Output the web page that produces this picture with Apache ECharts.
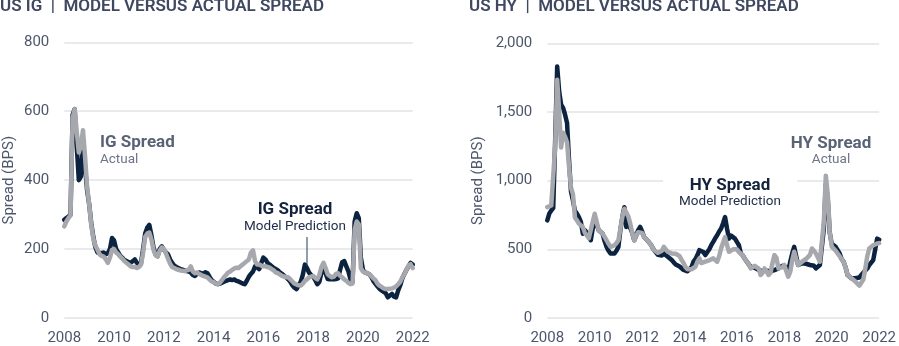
<!DOCTYPE html>
<html>
<head>
<meta charset="utf-8">
<script src="https://cdn.jsdelivr.net/npm/echarts@6/dist/echarts.min.js"></script>
<style>
html,body{margin:0;padding:0;background:#fff;}
#c{width:899px;height:346px;}
</style>
</head>
<body>
<div id="c"></div>
<script>
// ---------- DATA (monthly, Jan 2008 .. Jan 2022) ----------
const yearTicks = [2008, 2010, 2012, 2014, 2016, 2018, 2020, 2022];
const igTicks = [0, 200, 400, 600, 800];
const hyTicks = [0, 500, 1000, 1500, 2000];

const igModel = [
  285, 290, 294, 300, 590, 606, 500, 400, 410, 500, 440, 370,
  330, 275, 235, 205, 190, 188, 189, 190, 185, 188, 200, 232,
  225, 200, 190, 180, 175, 168, 165, 162, 160, 165, 170, 160,
  155, 160, 200, 245, 262, 270, 240, 205, 185, 180, 200, 208,
  198, 190, 185, 170, 160, 152, 148, 145, 142, 140, 138, 136,
  135, 132, 125, 122, 128, 132, 130, 128, 133, 130, 120, 110,
  105, 100, 98, 100, 102, 105, 108, 110, 112, 110, 112, 108,
  106, 103, 100, 98, 108, 120, 128, 135, 150, 146, 142, 160,
  175, 170, 160, 155, 150, 145, 142, 138, 132, 128, 122, 118,
  112, 105, 95, 88, 84, 95, 105, 125, 155, 145, 132, 125,
  120, 110, 98, 105, 132, 145, 130, 113, 112, 113, 112, 113,
  115, 140, 162, 165, 150, 135, 112, 105, 280, 304, 290, 175,
  140, 132, 130, 127, 120, 108, 100, 92, 85, 80, 76, 72,
  60, 65, 70, 62, 60, 80, 95, 115, 128, 140, 150, 160,
  155
];
const igActual = [
  266, 280, 290, 298, 580, 606, 540, 480, 500, 545, 470, 380,
  330, 270, 230, 210, 198, 185, 180, 178, 170, 160, 175, 198,
  200, 190, 185, 178, 172, 165, 160, 155, 150, 148, 148, 145,
  148, 155, 190, 235, 245, 248, 228, 198, 182, 178, 195, 205,
  200, 188, 172, 158, 148, 145, 142, 140, 138, 137, 136, 138,
  140, 150, 135, 130, 132, 128, 125, 122, 120, 118, 112, 106,
  104, 100, 98, 102, 110, 118, 125, 132, 135, 140, 144, 146,
  145, 150, 155, 160, 165, 170, 190, 196, 165, 155, 155, 152,
  150, 150, 148, 146, 142, 138, 132, 130, 126, 122, 120, 118,
  118, 112, 106, 100, 97, 95, 94, 100, 108, 112, 118, 120,
  122, 116, 112, 125, 148, 160, 145, 127, 122, 118, 120, 128,
  130, 122, 118, 112, 108, 102, 98, 100, 255, 280, 272, 145,
  135, 132, 130, 127, 122, 115, 110, 100, 94, 90, 86, 84,
  84, 85, 86, 88, 92, 98, 105, 118, 127, 140, 152, 156,
  145
];
const hyModel = [
  711, 760, 783, 800, 1300, 1831, 1650, 1554, 1530, 1480, 1420, 1150,
  920, 855, 780, 760, 735, 700, 614, 640, 639, 600, 566, 650,
  711, 680, 639, 625, 614, 560, 518, 490, 470, 468, 470, 490,
  518, 640, 735, 807, 663, 690, 687, 620, 566, 600, 640, 663,
  630, 590, 578, 560, 542, 520, 494, 480, 460, 446, 455, 470,
  460, 446, 435, 422, 405, 390, 386, 375, 361, 350, 345, 340,
  337, 370, 410, 430, 458, 494, 506, 480, 458, 470, 500, 530,
  554, 580, 602, 630, 651, 690, 735, 650, 578, 600, 590, 578,
  578, 530, 470, 455, 430, 410, 390, 373, 370, 365, 361, 350,
  337, 340, 349, 345, 337, 340, 345, 349, 355, 361, 370, 380,
  386, 370, 337, 410, 470, 518, 450, 386, 390, 398, 400, 395,
  386, 386, 386, 380, 361, 375, 386, 400, 650, 975, 860, 620,
  540, 530, 518, 506, 470, 430, 410, 370, 313, 300, 289, 289,
  289, 289, 295, 313, 330, 337, 360, 386, 400, 422, 500, 578,
  570
];
const hyActual = [
  807, 815, 819, 830, 1250, 1735, 1500, 1241, 1349, 1320, 1280, 1100,
  950, 900, 730, 711, 687, 675, 663, 620, 602, 580, 566, 700,
  759, 700, 639, 625, 614, 590, 566, 540, 518, 520, 530, 545,
  566, 650, 735, 795, 783, 740, 687, 620, 566, 600, 625, 639,
  620, 590, 578, 560, 542, 520, 494, 485, 475, 470, 490, 518,
  500, 482, 475, 470, 470, 468, 470, 450, 422, 400, 370, 355,
  349, 355, 361, 373, 410, 434, 400, 386, 410, 398, 420, 430,
  434, 420, 410, 450, 506, 550, 590, 530, 482, 490, 500, 490,
  500, 480, 470, 455, 430, 410, 390, 361, 365, 380, 386, 360,
  313, 330, 361, 340, 313, 330, 400, 458, 440, 361, 350, 370,
  386, 340, 301, 337, 420, 482, 430, 386, 400, 410, 420, 430,
  422, 460, 506, 490, 470, 440, 410, 420, 700, 1036, 900, 630,
  520, 506, 490, 470, 450, 430, 410, 370, 313, 300, 289, 280,
  265, 255, 235, 225, 280, 361, 450, 506, 520, 530, 540, 542,
  545
];

// month positions (decimal years) for the points above
const months = igModel.map((_, i) => 2008 + i / 12);
const pair = arr => arr.map((v, i) => [months[i], v]);

// ---------- STYLE ----------
const NAVY = '#0c2340';
const GRAY = '#a6a8ad';
const TXT = '#4d566c';
const TITLE = '#3f4860';
const GRID = '#e2e3e8';
const FONT = 'Roboto, "Noto Sans", sans-serif';

function xAxis(gi) {
  return {
    type: 'value', gridIndex: gi, min: 2008, max: 2022, interval: 2,
    axisLine: { show: false }, axisTick: { show: false }, splitLine: { show: false },
    axisLabel: { color: TXT, fontSize: 15, fontFamily: FONT, margin: 13,
      formatter: v => String(v) }
  };
}
function yAxis(gi, max, interval, gap, fmt) {
  return {
    type: 'value', gridIndex: gi, min: 0, max: max, interval: interval,
    name: 'Spread (BPS)', nameLocation: 'middle', nameGap: gap,
    nameTextStyle: { color: TXT, fontSize: 15, fontFamily: FONT },
    axisLine: { show: false }, axisTick: { show: false },
    splitLine: { show: true, lineStyle: { color: GRID, width: 1.5 } },
    axisLabel: { color: TXT, fontSize: 15, fontFamily: FONT, margin: 15, formatter: fmt }
  };
}
function line(name, data, color, gi) {
  return {
    type: 'line', name: name, xAxisIndex: gi, yAxisIndex: gi, data: pair(data),
    showSymbol: false, symbol: 'none', smooth: false, animation: false,
    lineStyle: { color: color, width: 4.5, join: 'round', cap: 'round' }
  };
}
function txt(x, y, s, size, weight, color, align) {
  return { type: 'text', z: 100, x: x, y: y,
    style: { text: s, fill: color, fontSize: size, fontWeight: weight, fontFamily: FONT,
      align: align || 'left', verticalAlign: 'middle' } };
}

const chart = echarts.init(document.getElementById('c'), null, { renderer: 'canvas' });
chart.setOption({
  animation: false,
  backgroundColor: '#fff',
  grid: [
    { left: 64.3, right: 899 - 412.7, top: 42.3, bottom: 346 - 321 },
    { left: 547.3, right: 899 - 884.3, top: 43.3, bottom: 346 - 320 }
  ],
  xAxis: [xAxis(0), xAxis(1)],
  yAxis: [
    yAxis(0, 800, 200, 48, v => String(v)),
    yAxis(1, 2000, 500, 62, v => v.toLocaleString('en-US'))
  ],
  series: [
    line('IG Spread Model Prediction', igModel, NAVY, 0),
    line('IG Spread Actual', igActual, GRAY, 0),
    line('HY Spread Model Prediction', hyModel, NAVY, 1),
    line('HY Spread Actual', hyActual, GRAY, 1)
  ],
  graphic: [
    // titles
    txt(0, 6.5, 'US IG  |  MODEL VERSUS ACTUAL SPREAD', 17, 600, TITLE),
    txt(469, 6.5, 'US HY  |  MODEL VERSUS ACTUAL SPREAD', 17, 600, TITLE),
    // IG annotations
    txt(100, 143, 'IG Spread', 17, 'bold', '#5a6276'),
    txt(100, 159.5, 'Actual', 13.5, 'normal', '#6e7588'),
    txt(295, 210, 'IG Spread', 17, 'bold', '#13233d', 'center'),
    txt(295, 227, 'Model Prediction', 13.5, 'normal', '#22304a', 'center'),
    { type: 'line', z: 100, shape: { x1: 307, y1: 237, x2: 307, y2: 266 },
      style: { stroke: '#1f3b5a', lineWidth: 1 } },
    // HY annotations (white box hides gridline behind)
    { type: 'rect', z: 1, shape: { x: 663, y: 172, width: 134, height: 38 },
      style: { fill: '#fff' } },
    txt(730, 186, 'HY Spread', 17, 'bold', '#13233d', 'center'),
    txt(730, 202, 'Model Prediction', 13.5, 'normal', '#22304a', 'center'),
    txt(831, 144, 'HY Spread', 17, 'bold', '#5a6276', 'center'),
    txt(831, 160, 'Actual', 13.5, 'normal', '#6e7588', 'center')
  ]
});
</script>
</body>
</html>
